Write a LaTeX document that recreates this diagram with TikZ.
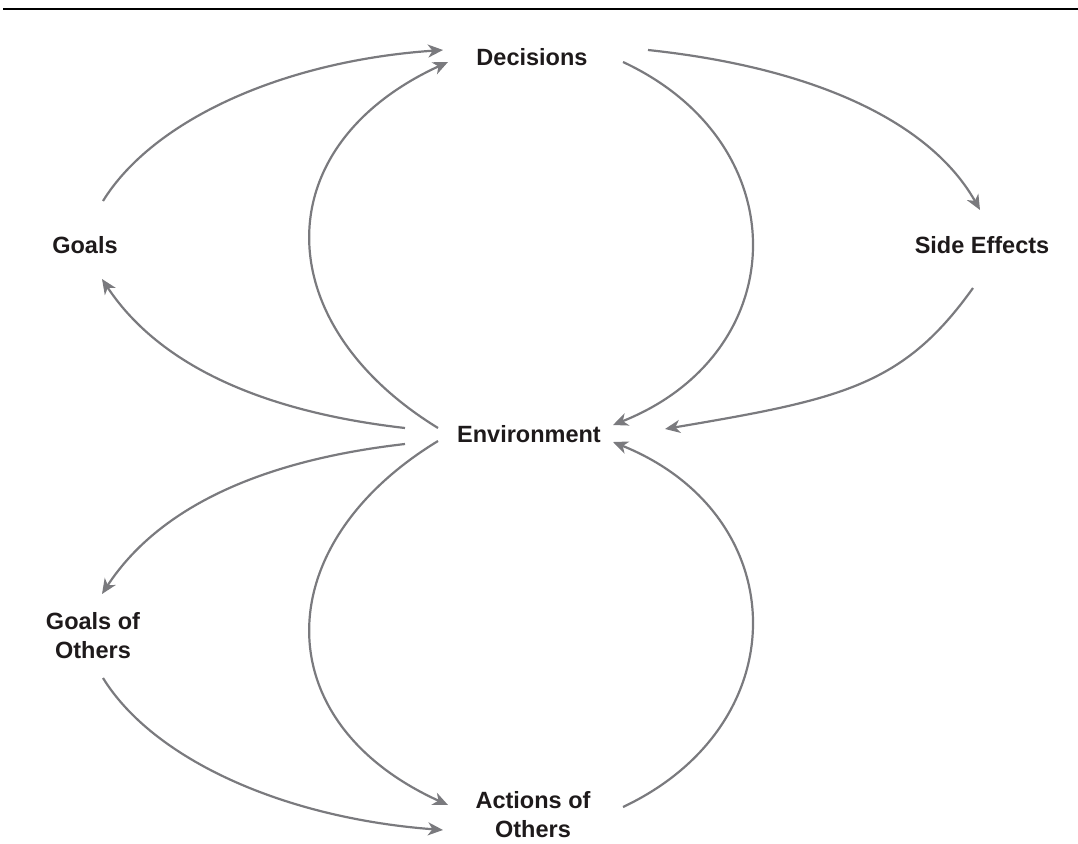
\documentclass[tikz,border=0pt]{standalone}
\usepackage{fontspec}
\setmainfont{Liberation Sans}
\usetikzlibrary{arrows.meta}
\definecolor{linkgray}{RGB}{122,122,126}
\definecolor{ink}{RGB}{30,26,27}
\begin{document}
\begin{tikzpicture}[x=1pt,y=-1pt,
  lbl/.style={font=\bfseries\fontsize{23.5}{29}\selectfont, text=ink,
              inner sep=0pt, align=center},
  link/.style={draw=linkgray, line width=2.2pt,
               -{Stealth[length=15pt,width=13pt,inset=4.5pt]}}]
\useasboundingbox (0,0) rectangle (1078,843);

% rule across the top
\draw[line width=2pt, black] (3,9.5) -- (1078,9.5);

% concepts
\node[lbl] (dec)    at (532,57)  {Decisions};
\node[lbl] (goals)  at (85,245)  {Goals};
\node[lbl] (side)   at (982,245) {Side Effects};
\node[lbl] (env)    at (529,434) {Environment};
\node[lbl] (gother) at (93,636)  {Goals of\\Others};
\node[lbl] (aother) at (533,815) {Actions of\\Others};

% connector ends around each concept
\coordinate (goals-out)  at (103,201);
\coordinate (goals-in)   at (102,279);
\coordinate (dec-in-a)   at (443,50);
\coordinate (dec-in-b)   at (448,62);
\coordinate (dec-out-a)  at (623,62);
\coordinate (dec-out-b)  at (648,50);
\coordinate (side-in)    at (980,210);
\coordinate (side-out)   at (973,288);
\coordinate (env-out-a)  at (438,428);
\coordinate (env-out-b)  at (405,428);
\coordinate (env-out-c)  at (405,444);
\coordinate (env-out-d)  at (438,441);
\coordinate (env-in-a)   at (613,425);
\coordinate (env-in-b)   at (665,429);
\coordinate (env-in-c)   at (613,442);
\coordinate (gother-in)  at (102,594);
\coordinate (gother-out) at (103,678);
\coordinate (aother-in-a) at (448,805);
\coordinate (aother-in-b) at (443,830);
\coordinate (aother-out) at (623,807);

% upper half
\draw[link] (goals-out) .. controls (153,120) and (283,61) .. (dec-in-a);
\draw[link] (env-out-a) .. controls (267,323) and (265,146) .. (dec-in-b);
\draw[link] (dec-out-a) .. controls (799,144) and (794,353) .. (env-in-a);
\draw[link] (dec-out-b) .. controls (817,68) and (931,123) .. (side-in);
\draw[link] (side-out)  .. controls (903,386) and (842,399) .. (env-in-b);
\draw[link] (env-out-b) .. controls (256,411) and (157,362) .. (goals-in);

% lower half
\draw[link] (env-out-c)  .. controls (256,461) and (157,510) .. (gother-in);
\draw[link] (env-out-d)  .. controls (267,545) and (265,722) .. (aother-in-a);
\draw[link] (aother-out) .. controls (799,724) and (794,515) .. (env-in-c);
\draw[link] (gother-out) .. controls (153,759) and (283,818) .. (aother-in-b);
\end{tikzpicture}
\end{document}
